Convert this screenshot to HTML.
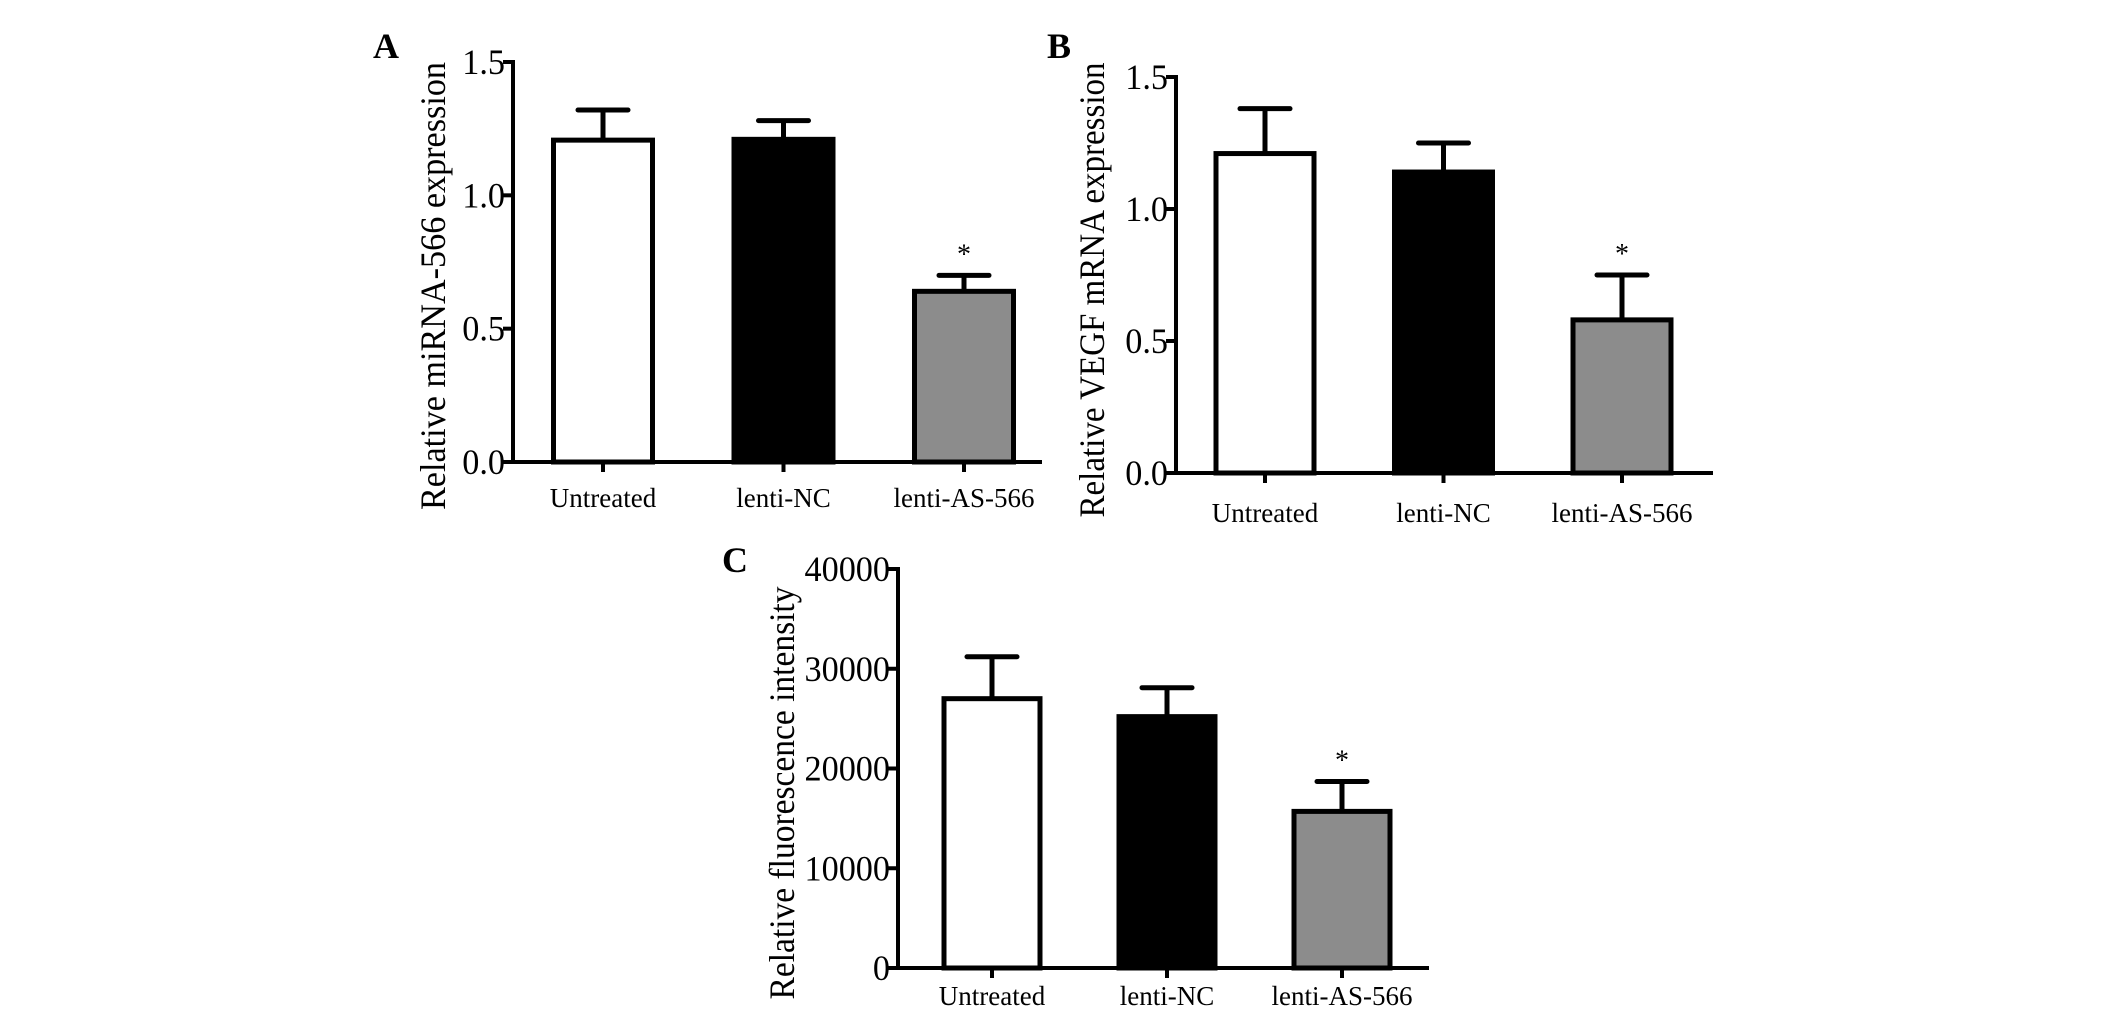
<!DOCTYPE html>
<html><head><meta charset="utf-8"><style>
html,body{margin:0;padding:0;background:#fff;}
svg{display:block;font-family:"Liberation Serif",serif;}
</style></head><body>
<svg id="fig" width="2126" height="1017" viewBox="0 0 2126 1017"></svg>
<script>
const categories = ["Untreated","lenti-NC","lenti-AS-566"];
const aMeans = [1.207, 1.21, 0.64];
const aErrors = [0.113, 0.07, 0.06];
const aTicks = ["0.0","0.5","1.0","1.5"];
const bMeans = [1.21, 1.14, 0.58];
const bErrors = [0.17, 0.11, 0.17];
const bTicks = ["0.0","0.5","1.0","1.5"];
const cMeans = [27000, 25200, 15700];
const cErrors = [4200, 2900, 3000];
const cTicks = ["0","10000","20000","30000","40000"];
const significant = [false, false, true];
const fills = ["#fff","#000","#8c8c8c"];
const NS="http://www.w3.org/2000/svg";
const svg=document.getElementById('fig');
function mk(tag,attrs,parent){const e=document.createElementNS(NS,tag);for(const k in attrs)e.setAttribute(k,attrs[k]);(parent||svg).appendChild(e);return e;}

function panel(p){
  const g=mk('g',{});
  
  
  const maxV=parseFloat(p.ticks[p.ticks.length-1]);
  const y=v=>p.y0-(v/maxV)*(p.y0-p.yTop);
  const x=i=>p.firstC+i*p.step;
  const ya=mk('line',{x1:p.x0,y1:p.yTop-2,x2:p.x0,y2:p.y0,stroke:'#000','stroke-width':4},g);
  
  
  const xa=mk('line',{x1:p.x0-2,y1:p.y0,x2:p.xEnd,y2:p.y0,stroke:'#000','stroke-width':4},g);
  
  
  p.ticks.forEach(t=>{
    const v=parseFloat(t), yy=y(v);
    mk('line',{x1:p.x0-10,y1:yy,x2:p.x0,y2:yy,stroke:'#000','stroke-width':4},g);
    const tx=mk('text',{transform:`translate(${p.x0-8},${yy+12}) scale(0.95,1)`,'text-anchor':'end','font-size':36,fill:'#000'},g);
    tx.textContent=t;
    
    
  });
  p.means.forEach((m,i)=>{
    const cx=x(i), top=y(m), et=y(m+p.errors[i]);
    mk('line',{x1:cx,y1:top,x2:cx,y2:et,stroke:'#000','stroke-width':5},g);
    mk('line',{x1:cx-25,y1:et,x2:cx+25,y2:et,stroke:'#000','stroke-width':5,'stroke-linecap':'round'},g);
    const r=mk('rect',{x:cx-p.bw/2,y:top,width:p.bw,height:p.y0-top,fill:fills[i],stroke:'#000','stroke-width':5},g);
    
    
    mk('line',{x1:cx,y1:p.y0,x2:cx,y2:p.y0+10,stroke:'#000','stroke-width':4},g);
    const cl=mk('text',{x:cx,y:p.catY,'text-anchor':'middle','font-size':27,fill:'#000'},g);
    cl.textContent=categories[i];
    
    
    if(significant[i]){
      const s=mk('text',{x:cx,y:et-12,'text-anchor':'middle','font-size':28,fill:'#000'},g);
      s.textContent='*';
      
      
    }
  });
  const tt=mk('text',{transform:`translate(${p.titleX},${p.titleMid}) rotate(-90)`,'text-anchor':'middle','font-size':36,textLength:p.titleLen,lengthAdjust:'spacingAndGlyphs',fill:'#000'},g);
  tt.textContent=p.title;
  
  
  const lb=mk('text',{x:p.lx,y:p.ly,'font-size':36,'font-weight':'bold',fill:'#000'},g);
  lb.textContent=p.letter;
  
  
}
panel({name:'panel-a',x0:513,yTop:62,y0:462,xEnd:1042,firstC:603,step:180.5,bw:99,means:aMeans,errors:aErrors,ticks:aTicks,catY:507,title:'Relative miRNA-566 expression',titleX:445,titleMid:286,titleLen:448,letter:'A',lx:373,ly:58});
panel({name:'panel-b',x0:1176,yTop:77,y0:473,xEnd:1713,firstC:1265,step:178.5,bw:98,means:bMeans,errors:bErrors,ticks:bTicks,catY:522,title:'Relative VEGF mRNA expression',titleX:1104,titleMid:290,titleLen:455,letter:'B',lx:1047,ly:58});
panel({name:'panel-c',x0:898,yTop:569,y0:968,xEnd:1429,firstC:992,step:175,bw:96,means:cMeans,errors:cErrors,ticks:cTicks,catY:1005,title:'Relative fluorescence intensity',titleX:794,titleMid:793,titleLen:413,letter:'C',lx:722,ly:572});
</script>
</body></html>
